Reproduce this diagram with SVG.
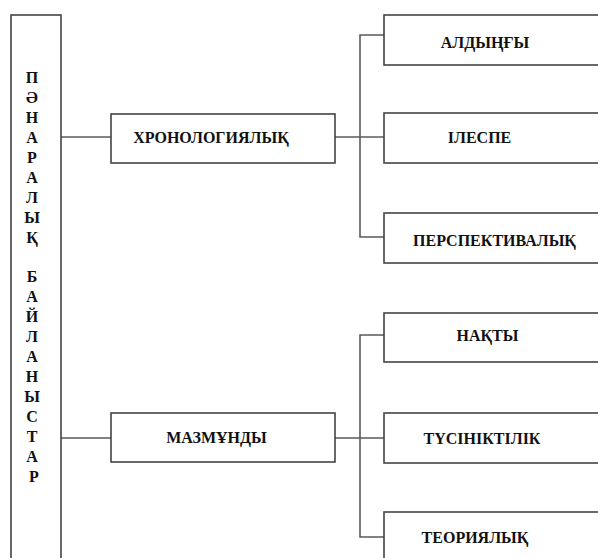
<svg xmlns="http://www.w3.org/2000/svg" width="598" height="558" viewBox="0 0 598 558">
<style>
.box{fill:#fff;stroke:#444;stroke-width:1.6}
.conn{stroke:#5a5a5a;stroke-width:1.6;fill:none}
.t{font-family:"Liberation Serif","Times New Roman",serif;font-weight:bold;font-size:16px;fill:#111;text-anchor:middle}
</style>
<rect width="598" height="558" fill="#fff"/>
<g id="connectors">
<line class="conn" x1="61" y1="137" x2="111" y2="137"/>
<line class="conn" x1="61" y1="438" x2="111" y2="438"/>
<line class="conn" x1="335" y1="137" x2="384" y2="137"/>
<line class="conn" x1="335" y1="438" x2="384" y2="438"/>
<polyline class="conn" points="384,35 360,35 360,237 384,237"/>
<polyline class="conn" points="384,335 360,335 360,537 384,537"/>
</g>
<g id="root">
<rect class="box" x="11" y="15" width="50" height="560"/>
<text class="t">
<tspan x="34" y="83">П</tspan>
<tspan x="34" y="103">Ә</tspan>
<tspan x="34" y="123">Н</tspan>
<tspan x="34" y="143">А</tspan>
<tspan x="34" y="163">Р</tspan>
<tspan x="34" y="183">А</tspan>
<tspan x="34" y="203">Л</tspan>
<tspan x="34" y="223">Ы</tspan>
<tspan x="34" y="243">Қ</tspan>
<tspan x="34" y="282">Б</tspan>
<tspan x="34" y="302">А</tspan>
<tspan x="34" y="322">Й</tspan>
<tspan x="34" y="342">Л</tspan>
<tspan x="34" y="362">А</tspan>
<tspan x="34" y="382">Н</tspan>
<tspan x="34" y="402">Ы</tspan>
<tspan x="34" y="422">С</tspan>
<tspan x="34" y="442">Т</tspan>
<tspan x="34" y="462">А</tspan>
<tspan x="34" y="482">Р</tspan>
</text>
</g>
<g id="chrono">
<rect class="box" x="111" y="114" width="224" height="49"/>
<text class="t" x="211" y="143">ХРОНОЛОГИЯЛЫҚ</text>
</g>
<g id="mazmundy">
<rect class="box" x="111" y="413" width="224" height="49"/>
<text class="t" x="216.5" y="443">МАЗМҰНДЫ</text>
</g>
<g id="aldyngy">
<rect class="box" x="384" y="15" width="230" height="50"/>
<text class="t" x="485" y="48">АЛДЫҢҒЫ</text>
</g>
<g id="ilespe">
<rect class="box" x="384" y="113" width="230" height="50"/>
<text class="t" x="479.5" y="143">ІЛЕСПЕ</text>
</g>
<g id="perspektivalyk">
<rect class="box" x="384" y="213" width="230" height="50"/>
<text class="t" x="494.5" y="246">ПЕРСПЕКТИВАЛЫҚ</text>
</g>
<g id="nakty">
<rect class="box" x="384" y="313" width="230" height="49"/>
<text class="t" x="487.5" y="341">НАҚТЫ</text>
</g>
<g id="tusiniktilik">
<rect class="box" x="384" y="413" width="230" height="50"/>
<text class="t" x="482" y="444">ТҮСІНІКТІЛІК</text>
</g>
<g id="teoriyalyk">
<rect class="box" x="384" y="512" width="230" height="60"/>
<text class="t" x="475" y="543">ТЕОРИЯЛЫҚ</text>
</g>
</svg>
